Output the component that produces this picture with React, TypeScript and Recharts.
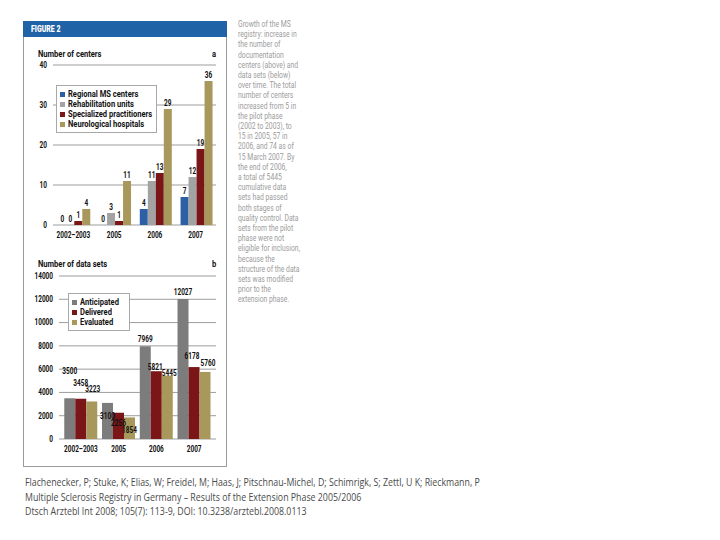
import { Bar, BarChart, CartesianGrid, LabelList, Legend, XAxis, YAxis } from "recharts";

const periods = ["2002–2003", "2005", "2006", "2007"];

// panel a: number of centers
const regionalCenters = [0, 0, 4, 7];
const rehabUnits = [0, 3, 11, 12];
const practitioners = [1, 1, 13, 19];
const neuroHospitals = [4, 11, 29, 36];
const centerTicks = [0, 10, 20, 30, 40];

// panel b: number of data sets
const anticipated = [3500, 3100, 7969, 12027];
const delivered = [3458, 2256, 5821, 6178];
const evaluated = [3223, 1854, 5445, 5760];
const dataSetTicks = [0, 2000, 4000, 6000, 8000, 10000, 12000, 14000];

const sideNote = [
  "Growth of the MS",
  "registry: increase in",
  "the number of",
  "documentation",
  "centers (above) and",
  "data sets (below)",
  "over time. The total",
  "number of centers",
  "increased from 5 in",
  "the pilot phase",
  "(2002 to 2003), to",
  "15 in 2005, 57 in",
  "2006, and 74 as of",
  "15 March 2007. By",
  "the end of 2006,",
  "a total of 5445",
  "cumulative data",
  "sets had passed",
  "both stages of",
  "quality control. Data",
  "sets from the pilot",
  "phase were not",
  "eligible for inclusion,",
  "because the",
  "structure of the data",
  "sets was modified",
  "prior to the",
  "extension phase.",
];

const citation = [
  "Flachenecker, P; Stuke, K; Elias, W; Freidel, M; Haas, J; Pitschnau-Michel, D; Schimrigk, S; Zettl, U K; Rieckmann, P",
  "Multiple Sclerosis Registry in Germany – Results of the Extension Phase 2005/2006",
  "Dtsch Arztebl Int 2008; 105(7): 113-9, DOI: 10.3238/arztebl.2008.0113",
];

const BLUE = "#2c5fa6";
const GRAY_A = "#a3a3a3";
const GRAY_B = "#7c7c7c";
const RED = "#7a1518";
const OLIVE = "#a8985b";
const GRID = "#9d9d9d";

const chartFont = "Roboto, 'Noto Sans', sans-serif";
const SQUEEZE = 0.76;

const centersData = periods.map((period, i) => ({
  period,
  regional: regionalCenters[i],
  rehab: rehabUnits[i],
  practitioners: practitioners[i],
  neuro: neuroHospitals[i],
}));

const dataSetsData = periods.map((period, i) => ({
  period,
  anticipated: anticipated[i],
  delivered: delivered[i],
  evaluated: evaluated[i],
}));

const centerSeries = [
  { key: "regional", name: "Regional MS centers", color: BLUE },
  { key: "rehab", name: "Rehabilitation units", color: GRAY_A },
  { key: "practitioners", name: "Specialized practitioners", color: RED },
  { key: "neuro", name: "Neurological hospitals", color: OLIVE },
];

const dataSetSeries = [
  { key: "anticipated", name: "Anticipated", color: GRAY_B },
  { key: "delivered", name: "Delivered", color: RED },
  { key: "evaluated", name: "Evaluated", color: OLIVE },
];

// label nudges in panel b (the printed figure staggers the early labels)
const labelShiftB: Record<string, { dx: number[]; dy: number[] }> = {
  anticipated: { dx: [0, 0, 0, 0], dy: [-27, 13, -7, -7] },
  delivered: { dx: [0, 0, -1, -2], dy: [-16, 10, -4, -11] },
  evaluated: { dx: [1, 0, 2, 3], dy: [-12, 13, -2, -9] },
};

// narrow bold text, like the condensed face of the printed figure
function NarrowText({ x, y, anchor, children }: { x: number; y: number; anchor: string; children: any }) {
  return (
    <text
      transform={`translate(${x},${y}) scale(${SQUEEZE},1)`}
      textAnchor={anchor}
      dominantBaseline="central"
      fill="#111"
      fontFamily={chartFont}
      fontWeight={700}
      fontSize={8.5}
    >
      {children}
    </text>
  );
}

const xTick = (props: any) => (
  <NarrowText x={props.x} y={props.y + 4} anchor="middle">
    {props.payload.value}
  </NarrowText>
);

const yTick = (props: any) => (
  <NarrowText x={props.x} y={props.y} anchor="end">
    {props.payload.value}
  </NarrowText>
);

const topLabel = (props: any) => {
  const { x, y, width, value } = props;
  return (
    <NarrowText x={Number(x) + Number(width) / 2} y={Number(y) - 6} anchor="middle">
      {value}
    </NarrowText>
  );
};

function shiftedLabel(seriesKey: string) {
  return (props: any) => {
    const { x, y, width, value, index } = props;
    const shift = labelShiftB[seriesKey];
    return (
      <NarrowText x={Number(x) + Number(width) / 2 + shift.dx[index]} y={Number(y) + shift.dy[index]} anchor="middle">
        {value}
      </NarrowText>
    );
  };
}

const squeezed = (scale: number): React.CSSProperties => ({
  transform: `scaleX(${scale})`,
  transformOrigin: "0 0",
  whiteSpace: "nowrap",
});

function LegendBox({ items, width, lineHeight }: { items: { name: string; color: string }[]; width: number; lineHeight: number }) {
  return (
    <div
      style={{
        width,
        boxSizing: "border-box",
        background: "#fff",
        border: "1px solid #a8a8a8",
        padding: "3px 0 3px 3px",
        fontFamily: chartFont,
        fontSize: 9,
        fontWeight: 700,
        color: "#111",
      }}
    >
      {items.map((it) => (
        <div key={it.name} style={{ display: "flex", alignItems: "center", height: lineHeight }}>
          <span style={{ width: 5, height: 5, background: it.color, marginRight: 3, flexShrink: 0 }} />
          <span style={squeezed(0.84)}>{it.name}</span>
        </div>
      ))}
    </div>
  );
}

const panelTitle = (text: string, left: number, top: number) => (
  <div
    style={{
      position: "absolute",
      left,
      top,
      fontFamily: chartFont,
      fontWeight: 700,
      fontSize: 9,
      color: "#111",
      ...squeezed(0.84),
    }}
  >
    {text}
  </div>
);

export default function App() {
  return (
    <div style={{ position: "absolute", left: 0, top: 0, width: 720, height: 540, background: "#fff", overflow: "hidden" }}>
      {/* figure frame */}
      <div style={{ position: "absolute", left: 23, top: 21, width: 204, height: 446, border: "1px solid #9a9a9a", borderTop: "none", boxSizing: "border-box" }} />
      <div
        style={{
          position: "absolute",
          left: 23,
          top: 21,
          width: 204,
          height: 16,
          background: "#1f62a5",
          boxSizing: "border-box",
        }}
      >
        <div
          style={{
            position: "absolute",
            left: 8,
            top: 0,
            color: "#fff",
            fontFamily: chartFont,
            fontWeight: 900,
            fontSize: 8.5,
            lineHeight: "16px",
            ...squeezed(0.82),
          }}
        >
          FIGURE 2
        </div>
      </div>

      {panelTitle("Number of centers", 38, 49)}
      {panelTitle("a", 212, 49)}
      {panelTitle("Number of data sets", 38, 259)}
      {panelTitle("b", 212, 259)}

      <div style={{ position: "absolute", left: 20, top: 60 }}>
        <BarChart
          width={205}
          height={185}
          data={centersData}
          margin={{ top: 5, right: 9, bottom: 0, left: 0 }}
          barCategoryGap="13%"
          barGap={0}
        >
          <CartesianGrid vertical={false} stroke={GRID} />
          <XAxis dataKey="period" axisLine={false} tickLine={false} tickMargin={0} height={20} tick={xTick} interval={0} />
          <YAxis
            domain={[0, 40]}
            ticks={centerTicks}
            interval={0}
            width={33}
            axisLine={false}
            tickLine={false}
            tickMargin={0}
            tick={yTick}
          />
          <Legend
            layout="horizontal"
            verticalAlign="middle"
            align="center"
            wrapperStyle={{ left: 36, top: 25, width: 101 }}
            content={() => <LegendBox items={centerSeries} width={101} lineHeight={10} />}
          />
          {centerSeries.map((s) => (
            <Bar key={s.key} dataKey={s.key} name={s.name} fill={s.color} minPointSize={0.01} isAnimationActive={false}>
              <LabelList dataKey={s.key} content={topLabel} />
            </Bar>
          ))}
        </BarChart>
      </div>

      <div style={{ position: "absolute", left: 20, top: 271 }}>
        <BarChart
          width={205}
          height={188}
          data={dataSetsData}
          margin={{ top: 5, right: 9, bottom: 0, left: 0 }}
          barCategoryGap="6%"
          barGap={0}
        >
          <CartesianGrid vertical={false} stroke={GRID} />
          <XAxis
            dataKey="period"
            axisLine={false}
            tickLine={false}
            tickMargin={0}
            height={20}
            tick={xTick}
            interval={0}
            padding={{ left: 3, right: 3 }}
          />
          <YAxis
            domain={[0, 14000]}
            ticks={dataSetTicks}
            interval={0}
            width={39}
            axisLine={false}
            tickLine={false}
            tickMargin={0}
            tick={yTick}
          />
          <Legend
            layout="horizontal"
            verticalAlign="middle"
            align="center"
            wrapperStyle={{ left: 48, top: 22, width: 62 }}
            content={() => <LegendBox items={dataSetSeries} width={62} lineHeight={10} />}
          />
          {dataSetSeries.map((s) => (
            <Bar key={s.key} dataKey={s.key} name={s.name} fill={s.color} isAnimationActive={false}>
              <LabelList dataKey={s.key} content={shiftedLabel(s.key)} />
            </Bar>
          ))}
        </BarChart>
      </div>

      {/* caption beside the figure */}
      <div
        style={{
          position: "absolute",
          left: 238,
          top: 19,
          fontFamily: "Roboto, sans-serif",
          fontSize: 8.5,
          lineHeight: "10.2px",
          color: "#9c9c9c",
          ...squeezed(0.8),
        }}
      >
        {sideNote.map((line) => (
          <div key={line}>{line}</div>
        ))}
      </div>

      {/* source line */}
      <div
        style={{
          position: "absolute",
          left: 25,
          top: 475,
          fontFamily: "'Open Sans', sans-serif",
          fontSize: 10,
          lineHeight: "14.5px",
          color: "#4a4a4a",
          ...squeezed(0.88),
        }}
      >
        {citation.map((line) => (
          <div key={line}>{line}</div>
        ))}
      </div>
    </div>
  );
}
